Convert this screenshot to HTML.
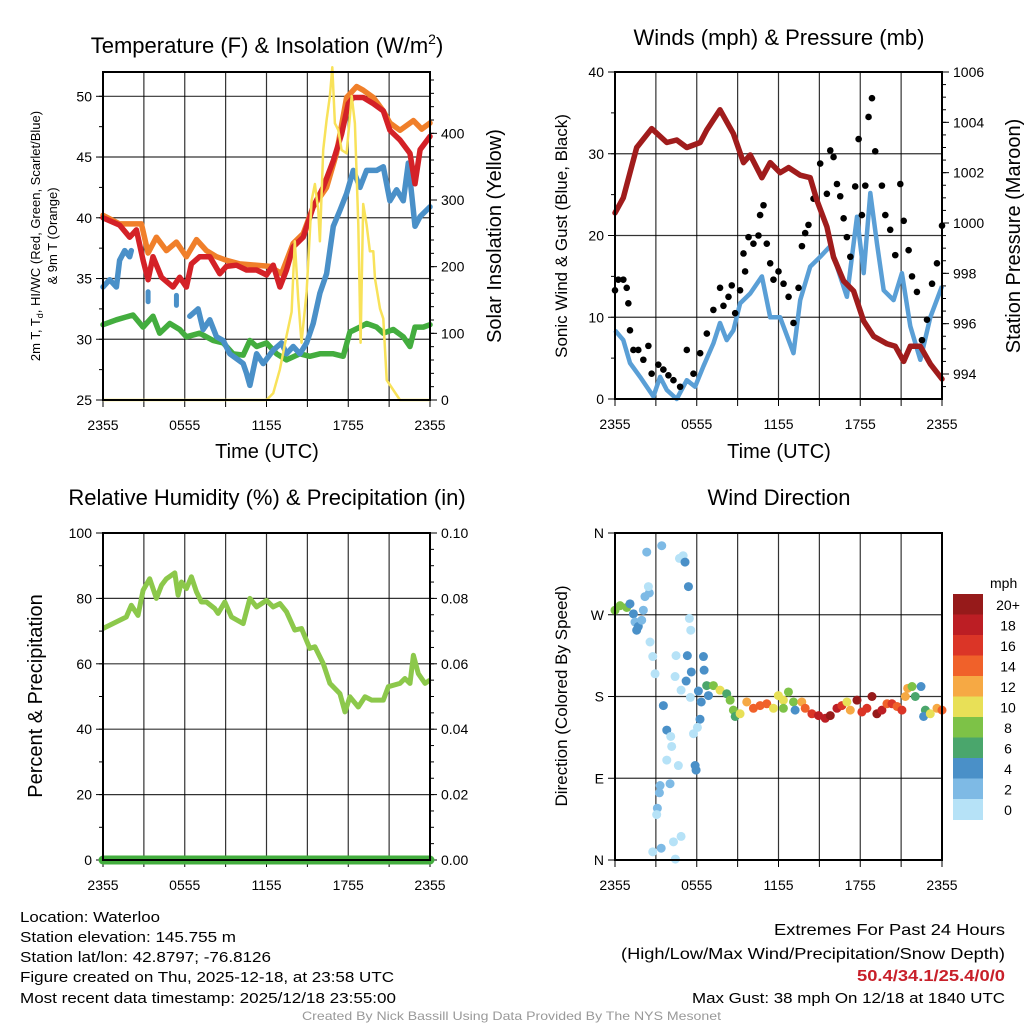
<!DOCTYPE html>
<html><head><meta charset="utf-8">
<style>
html,body{margin:0;padding:0;background:#fff;}
svg{display:block;font-family:"Liberation Sans",Arial,sans-serif;}
</style></head>
<body>
<svg id="chart" width="1024" height="1024" viewBox="0 0 1024 1024" xmlns="http://www.w3.org/2000/svg">
<rect x="0" y="0" width="1024" height="1024" fill="#fff"/>
<text x="267" y="53" font-size="22" text-anchor="middle">Temperature (F) &amp; Insolation (W/m<tspan font-size="14" dy="-9">2</tspan><tspan dy="9">)</tspan></text>
<text x="779" y="45" font-size="22" text-anchor="middle">Winds (mph) &amp; Pressure (mb)</text>
<text x="267" y="505" font-size="22" text-anchor="middle">Relative Humidity (%) &amp; Precipitation (in)</text>
<text x="779" y="505" font-size="22" text-anchor="middle">Wind Direction</text>
<text transform="translate(40,236) rotate(-90)" font-size="13" text-anchor="middle">2m T, T<tspan font-size="9" dy="3">d</tspan><tspan dy="-3">, HI/WC (Red, Green, Scarlet/Blue)</tspan></text>
<text transform="translate(57,236) rotate(-90)" font-size="13" text-anchor="middle">&amp; 9m T (Orange)</text>
<text transform="translate(501,236) rotate(-90)" font-size="20" text-anchor="middle">Solar Insolation (Yellow)</text>
<text x="267" y="458" font-size="20" text-anchor="middle">Time (UTC)</text>
<text transform="translate(567,236) rotate(-90)" font-size="17" text-anchor="middle">Sonic Wind &amp; Gust (Blue, Black)</text>
<text transform="translate(1020,236) rotate(-90)" font-size="20" text-anchor="middle">Station Pressure (Maroon)</text>
<text x="779" y="458" font-size="20" text-anchor="middle">Time (UTC)</text>
<text transform="translate(42,696) rotate(-90)" font-size="20" text-anchor="middle">Percent &amp; Precipitation</text>
<text transform="translate(567,696) rotate(-90)" font-size="17" text-anchor="middle">Direction (Colored By Speed)</text>
<g id="layer"></g>
<g font-size="15">
<text x="20" y="922" textLength="140" lengthAdjust="spacingAndGlyphs">Location: Waterloo</text>
<text x="20" y="942" textLength="216" lengthAdjust="spacingAndGlyphs">Station elevation: 145.755 m</text>
<text x="20" y="962" textLength="251" lengthAdjust="spacingAndGlyphs">Station lat/lon: 42.8797; -76.8126</text>
<text x="20" y="982" textLength="374" lengthAdjust="spacingAndGlyphs">Figure created on Thu, 2025-12-18, at 23:58 UTC</text>
<text x="20" y="1003" textLength="376" lengthAdjust="spacingAndGlyphs">Most recent data timestamp: 2025/12/18 23:55:00</text>
</g>
<g font-size="16">
<text x="774" y="935" textLength="231" lengthAdjust="spacingAndGlyphs">Extremes For Past 24 Hours</text>
<text x="621" y="959" textLength="384" lengthAdjust="spacingAndGlyphs">(High/Low/Max Wind/Precipitation/Snow Depth)</text>
<text x="857" y="981" font-weight="bold" fill="#c8202a" textLength="148" lengthAdjust="spacingAndGlyphs">50.4/34.1/25.4/0/0</text>
<text x="692" y="1003" font-size="15" textLength="313" lengthAdjust="spacingAndGlyphs">Max Gust: 38 mph On 12/18 at 1840 UTC</text>
</g>
<text x="302" y="1020" font-size="12" fill="#999" textLength="419" lengthAdjust="spacingAndGlyphs">Created By Nick Bassill Using Data Provided By The NYS Mesonet</text>
</svg>
<script>
const timeTicks = [0, 6, 12, 18, 24];
const timeTickLabels = ["2355", "0555", "1155", "1755", "2355"];

const redHours = [0,1.22,1.96,2.45,2.94,3.31,3.67,4.29,5.14,5.63,6.12,6.49,7.1,7.84,8.57,9.06,9.8,10.53,11.27,12,12.49,12.98,13.47,13.96,14.69,15.43,16.16,16.9,17.51,18,18.37,19.1,19.84,20.57,21.06,21.8,22.53,22.9,23.27,24];
const redTemp = [40,39.4,38.4,39,36.5,34.9,36.8,35.1,34.3,35.1,34.3,36.2,36.8,36.8,35.4,36,36.1,35.7,35.7,35.3,36.1,34.3,35.7,37.6,38.4,40.9,42.5,44.7,46.9,49.4,49.9,49.9,49.4,48.8,47.2,46.4,45.3,42.8,45.6,46.7];
const orangeHours = [0,1.22,2.2,2.82,3.31,3.92,4.65,5.39,6.12,6.86,7.59,8.33,9.06,10.04,11.27,12.25,13.1,13.96,14.69,15.43,16.41,17.14,17.88,18.61,19.1,19.84,20.57,21.06,21.8,22.78,23.39,24];
const orangeTemp = [40.2,39.5,39.5,39.5,37.1,38.4,37.3,38,36.8,38.2,37.3,36.8,36.5,36.2,36.1,36,35.4,37.9,38.7,40.9,42.5,45.3,49.9,50.8,50.5,49.9,48.8,47.8,47.2,48,47.3,47.8];
const blueHours1 = [0,0.49,0.98,1.22,1.59,1.96,2.08];
const blueTemp1 = [34.3,34.9,34.3,36.5,37.3,36.8,37.3];
const blueDotHours = [3.31,5.39];
const blueDotTemp = [33.5,33.2];
const blueHours2 = [6.37,6.98,7.35,7.84,8.33,8.82,9.31,9.92,10.29,10.53,10.78,11.27,11.76,12.49,13.1,13.47,13.96,14.45,14.94,15.43,15.92,16.41,16.9,17.39,17.88,18.37,18.86,19.35,20.08,20.57,21.06,21.55,22.04,22.41,22.65,22.9,23.27,24];
const blueTemp2 = [31.9,32.5,30.8,31.6,30.2,29.9,28.8,28.3,28,27.2,26.2,28.8,28,29.1,29.7,28.8,29.4,28.8,29.7,31.3,33.8,35.4,39.3,40.6,42,43.9,42.5,43.9,43.9,44.2,41.4,42.3,41.4,44.5,42,39.3,40.1,40.9];
const greenHours = [0,0.98,2.2,2.94,3.67,4.16,4.9,5.63,6.12,7.1,8.08,8.82,9.55,10.29,10.78,11.27,12,12.74,13.47,14.45,15.18,15.92,16.9,17.63,18.12,18.86,19.35,20.08,20.57,21.31,22.04,22.53,22.9,23.51,24];
const greenTemp = [31.2,31.6,32,31,31.9,30.5,31.3,30.8,30.2,30.5,29.9,29.7,28.8,28.7,29.9,29.4,29.7,28.8,28.3,28.8,28.6,28.8,28.8,28.6,30.6,31,31.3,31,30.5,30.8,30.2,29.4,31,31,31.2];
const solarHours = [0,12,12.49,12.98,13.47,13.84,14.08,14.33,14.57,14.94,15.31,15.55,15.8,15.92,16.16,16.41,16.65,16.83,17.02,17.27,17.51,17.88,18.25,18.49,18.74,18.91,19.1,19.35,19.59,19.84,19.96,20.33,20.57,20.82,21.31,21.8,24];
const solarValues = [0,0,10,46,96,132,238,152,86,162,299,324,284,238,375,420,456,499,415,405,375,370,456,415,263,86,294,263,223,223,182,137,122,30,15,0,0];

const windHours = [0,0.61,1.1,1.84,2.82,3.31,3.8,4.53,5.27,5.88,6.49,7.22,7.71,8.2,8.69,9.18,9.92,10.78,11.39,12.12,13.1,13.59,14.33,15.06,15.8,16.53,17.02,17.76,18.25,18.74,19.23,19.72,20.45,21.06,21.67,22.41,23.14,24];
const windSpeed = [8.4,7.2,4.4,2.7,0.3,2.7,1.1,0,2.3,1.5,4,6.8,9.3,7.2,8.4,11.7,12.9,15,10,10,5.6,12.1,16.2,17.4,18.7,15,12.5,22.3,15.4,25.2,19,13.3,12.1,15.4,8.9,4.8,10,13.8];
const gustHours = [0,0.24,0.61,0.86,0.98,1.1,1.35,1.71,2.08,2.45,2.69,3.18,3.55,3.92,4.29,4.78,5.27,5.76,6.25,6.74,7.22,7.71,7.96,8.33,8.57,8.82,9.18,9.43,9.55,9.8,10.16,10.53,10.65,10.9,11.14,11.39,11.63,12,12.37,12.74,13.1,13.47,13.72,13.96,14.2,14.57,15.06,15.55,15.8,16.04,16.29,16.53,16.78,17.02,17.27,17.63,17.88,18.12,18.37,18.61,18.86,19.1,19.59,19.84,20.2,20.57,20.94,21.19,21.55,21.8,22.16,22.53,22.9,23.27,23.63,24];
const gustSpeed = [13.3,14.6,14.6,13.6,11.7,8.4,6,6,4.8,6.5,3.1,4.2,3.6,2.9,2.3,1.5,6,3.1,5.6,8,10.9,13.6,11.4,12.5,13.9,10.5,13.3,17.8,15.6,19.8,19,20,22.5,23.7,19,16.6,14.6,15.6,14.1,12.5,9.3,13.6,18.7,20.3,21.3,24.5,28.8,25.1,30.4,29.6,26.3,24.8,22.1,19.8,17.4,26,31.8,22.5,26.1,34.5,36.8,30.3,26.1,22.5,20.7,17.6,26.3,21.8,18.2,15,13.1,7.2,9.7,14.1,16.6,21.2];
const pressHours = [0,0.61,1.59,2.69,3.8,4.53,5.27,6.25,6.74,7.71,8.69,9.43,9.92,10.78,11.39,12.12,12.74,13.59,14.33,14.82,15.55,16.04,16.78,17.51,18.25,18.98,19.96,20.57,21.19,21.67,22.41,23.14,24];
const pressValues = [1000.4,1001,1003,1003.75,1003.2,1003.3,1003,1003.2,1003.7,1004.5,1003.55,1002.4,1002.7,1001.8,1002.4,1002,1002.2,1001.9,1001.8,1000.9,999.85,998.65,997.7,997.3,996.1,995.5,995.2,995.1,994.5,995.1,995.1,994.4,993.8];

const rhHours = [0,0.98,1.71,2.08,2.57,2.94,3.43,3.92,4.29,4.65,5.27,5.51,5.76,6.12,6.49,6.86,7.22,7.59,8.2,8.45,8.94,9.43,10.29,10.78,11.27,12,12.49,12.98,13.47,14.08,14.57,15.18,15.55,16.16,16.65,17.39,17.76,18.12,18.74,19.23,19.72,20.57,20.94,21.8,22.16,22.53,22.78,23.14,23.63,24];
const rhValues = [70.8,72.8,74.3,77.9,74.8,82.5,86,80,84,86,87.8,81,85,83,86.6,82,78.9,78.9,76.9,75.4,78.9,74.3,72.3,80,77.4,79.4,77.4,78.4,75.9,70.3,70.8,64.7,65.2,60.1,54,50.9,45.3,49.9,46.8,49.9,48.9,48.9,53,54,55.5,54,62.6,57,54,55];
const precipHours = [0,24];
const precipValues = [0,0];

const dirHours = [0,0.37,0.86,1.1,1.35,1.47,1.59,1.71,1.96,2.08,2.2,2.52,2.45,2.33,2.57,2.77,2.94,3.43,3.55,3.8,4.09,4.16,3.8,4.65,3.31,3.26,3.11,3.06,3.39,2.77,4.04,4.29,4.85,4.43,4.73,5.0,5.14,5.39,5.46,5.56,4.48,5.31,4.41,5.22,4.85,5.53,5.6,6.49,6.54,6.12,6.33,6.24,6.05,5.76,5.88,5.95,6.73,6.86,7.22,7.71,8.2,8.45,8.69,8.82,9.18,9.67,10.16,10.65,11.14,11.63,11.99,12.36,12.36,12.73,13.1,13.22,13.71,13.96,14.45,14.94,15.43,15.8,16.29,16.65,17.02,17.27,17.76,18.12,18.49,18.86,19.22,19.59,19.96,20.33,20.7,21.06,21.31,21.48,21.8,22.04,22.46,22.78,22.65,23.14,23.63,24];
const dirDegrees = [275,280,278,282,271,262,253,257,264,275,290,294,301,339,240,224,205,346,170,143,136,125,110,104,82,74,57,50,13,9,84,20,26,1,332,335,328,301,266,253,225,225,202,197,187,179,207,224,209,186,174,155,146,139,104,99,192,181,192,187,183,176,165,158,161,174,167,170,172,167,181,176,167,185,174,165,174,167,161,159,156,159,167,170,174,165,176,163,167,180,161,165,172,172,169,165,180,189,191,180,191,165,158,161,167,165];
const dirSpeeds = [8,8,8,4,4,2,4,4,2,2,2,2,0,2,0,0,0,2,4,4,0,0,0,0,2,2,2,0,2,0,2,0,0,0,0,0,4,4,0,0,0,4,0,4,0,0,4,4,4,4,4,4,0,0,4,4,6,4,8,10,6,8,8,6,10,12,14,14,14,10,10,10,8,8,8,4,12,14,16,18,18,20,18,16,10,12,20,16,16,20,20,18,14,16,14,16,12,12,8,6,4,6,4,10,12,14];
const speedBinLabels = ["0","2","4","6","8","10","12","14","16","18","20+"];
const speedColors = ["#b6e2f7","#7ebae5","#4a90c8","#4aa66c","#7dc247","#e8e057","#f6a944","#f0612a","#db3527","#bc1e24","#961a1a"];

const NS = "http://www.w3.org/2000/svg";
const layer = document.getElementById("layer");
function mk(tag, attrs, parent) {
  const e = document.createElementNS(NS, tag);
  for (const k in attrs) e.setAttribute(k, attrs[k]);
  (parent || layer).appendChild(e);
  return e;
}
function lin(d0, d1, r0, r1) { return v => r0 + (v - d0) / (d1 - d0) * (r1 - r0); }
function pathD(xs, ys, fx, fy) {
  return xs.map((h, i) => (i ? "L" : "M") + fx(h).toFixed(1) + "," + fy(ys[i]).toFixed(1)).join("");
}

function panelFrame(L, T, R, B, name, xScale, leftTicks, leftLabels, leftScale, leftMinor, gridVals, labelOff) {
  const g = mk("g", {});
  
  
  for (let h = 3; h < 24; h += 3) {
    const ln = mk("line", {x1: xScale(h), x2: xScale(h), y1: T, y2: B, stroke: "#000", "stroke-width": 1.2, "stroke-opacity": 0.8}, g);
    
    
  }
  gridVals.forEach(v => {
    const ln = mk("line", {x1: L, x2: R, y1: leftScale(v), y2: leftScale(v), stroke: "#000", "stroke-width": 1.2, "stroke-opacity": 0.8}, g);
    
    
  });
  for (let h = 0; h <= 24; h += 3) {
    mk("line", {x1: xScale(h), x2: xScale(h), y1: B, y2: B + 7, stroke: "#000", "stroke-width": 1}, g);
  }
  timeTicks.forEach((h, i) => {
    const t = mk("text", {x: xScale(h), y: B + labelOff, "font-size": 14, "text-anchor": "middle"}, g);
    
    
    t.textContent = timeTickLabels[i];
  });
  leftMinor.forEach(v => mk("line", {x1: L - 4, x2: L, y1: leftScale(v), y2: leftScale(v), stroke: "#000", "stroke-width": 1}, g));
  leftTicks.forEach((v, i) => {
    mk("line", {x1: L - 7, x2: L, y1: leftScale(v), y2: leftScale(v), stroke: "#000", "stroke-width": 1}, g);
    const t = mk("text", {x: L - 11, y: leftScale(v) + 5, "font-size": 14, "text-anchor": "end"}, g);
    
    
    t.textContent = leftLabels[i];
  });
  return g;
}
function rightAxis(R, scale, ticks, labels, minor) {
  minor.forEach(v => mk("line", {x1: R, x2: R + 4, y1: scale(v), y2: scale(v), stroke: "#000", "stroke-width": 1}));
  ticks.forEach((v, i) => {
    mk("line", {x1: R, x2: R + 7, y1: scale(v), y2: scale(v), stroke: "#000", "stroke-width": 1});
    const t = mk("text", {x: R + 11, y: scale(v) + 5, "font-size": 14});
    
    
    t.textContent = labels[i];
  });
}
function border(L, T, R, B, name) {
  const r = mk("rect", {x: L, y: T, width: R - L, height: B - T, fill: "none", stroke: "#000", "stroke-width": 2});
  
  
}
function range(a, b, s) { const o = []; for (let v = a; v <= b + 1e-9; v += s) o.push(+v.toFixed(4)); return o; }

{
  const L = 103, T = 72, R = 430, B = 400;
  const x = lin(0, 24, L, R), y = lin(25, 52, B, T), ys = lin(0, 492, B, T);
  panelFrame(L, T, R, B, "temperature-panel", x, [25,30,35,40,45,50], ["25","30","35","40","45","50"], y, range(25, 52, 2.5), [30,35,40,45,50], 30);
  rightAxis(R, ys, [0,100,200,300,400], ["0","100","200","300","400"], range(0, 480, 20));
  const series = [
    ["green-td-line", greenHours, greenTemp, "#43ad3e", y],
    ["blue-line-a", blueHours1, blueTemp1, "#4a90c8", y],
    ["blue-line-b", blueHours2, blueTemp2, "#4a90c8", y],
    ["orange-9m-temp-line", orangeHours, orangeTemp, "#f07f2a", y],
    ["red-2m-temp-line", redHours, redTemp, "#d42127", y]
  ];
  series.forEach(s => {
    const p = mk("path", {d: pathD(s[1], s[2], x, s[4]), fill: "none", stroke: s[3], "stroke-width": 5.5, "stroke-linejoin": "round", "stroke-linecap": "round"});
    
    
  });
  blueDotHours.forEach((h, i) => {
    const c = mk("path", {d: "M" + x(h) + "," + (y(blueDotTemp[i]) - 5) + "l0,10", stroke: "#4a90c8", "stroke-width": 5, "stroke-linecap": "round"});
    
    
  });
  const sp = mk("path", {d: pathD(solarHours, solarValues, x, ys), fill: "none", stroke: "#f8e25a", "stroke-width": 2.5, "stroke-linejoin": "round"});
  
  
  border(L, T, R, B, "temperature-panel");
}

{
  const L = 615, T = 72, R = 942, B = 399;
  const x = lin(0, 24, L, R), y = lin(0, 40, B, T), yp = lin(994, 1006, 374, 72);
  panelFrame(L, T, R, B, "winds-panel", x, [0,10,20,30,40], ["0","10","20","30","40"], y, range(0, 40, 5), [10,20,30], 30);
  rightAxis(R, yp, [994,996,998,1000,1002,1004,1006], ["994","996","998","1000","1002","1004","1006"], range(993.5, 1006, 0.5));
  const wp = mk("path", {d: pathD(windHours, windSpeed, x, y), fill: "none", stroke: "#5a9fd6", "stroke-width": 4.5, "stroke-linejoin": "round"});
  
  
  gustHours.forEach((h, i) => {
    const c = mk("circle", {cx: x(h), cy: y(gustSpeed[i]), r: 3.3, fill: "#000"});
    
    
  });
  const pp = mk("path", {d: pathD(pressHours, pressValues, x, yp), fill: "none", stroke: "#a01c1c", "stroke-width": 5.5, "stroke-linejoin": "round", "stroke-linecap": "round"});
  
  
  border(L, T, R, B, "winds-panel");
}

{
  const L = 103, T = 533, R = 430, B = 860;
  const x = lin(0, 24, L, R), y = lin(0, 100, B, T), yr = lin(0, 0.1, B, T);
  panelFrame(L, T, R, B, "humidity-panel", x, [0,20,40,60,80,100], ["0","20","40","60","80","100"], y, range(0, 100, 10), [20,40,60,80], 30);
  rightAxis(R, yr, [0,0.02,0.04,0.06,0.08,0.1], ["0.00","0.02","0.04","0.06","0.08","0.10"], range(0, 0.1, 0.005));
  const rp = mk("path", {d: pathD(rhHours, rhValues, x, y), fill: "none", stroke: "#8cc84b", "stroke-width": 5, "stroke-linejoin": "round"});
  
  
  const pr = mk("path", {d: pathD(precipHours, precipValues, x, yr), fill: "none", stroke: "#43ad3e", "stroke-width": 9, "stroke-linecap": "round"});
  
  
  border(L, T, R, B, "humidity-panel");
}

{
  const L = 615, T = 533, R = 942, B = 860;
  const x = lin(0, 24, L, R), y = lin(0, 360, B, T);
  panelFrame(L, T, R, B, "direction-panel", x, [0,90,180,270,360], ["N","E","S","W","N"], y, [], [90,180,270], 30);
  dirHours.forEach((h, i) => {
    const bin = Math.min(10, Math.floor(dirSpeeds[i] / 2));
    const c = mk("circle", {cx: x(h), cy: y(dirDegrees[i]), r: 4.5, fill: speedColors[bin]});
    
    
  });
  border(L, T, R, B, "direction-panel");
  const cbTop = 594, cbH = 20.5;
  const mph = mk("text", {x: 990, y: 588, "font-size": 14});
  
  
  mph.textContent = "mph";
  for (let k = 10; k >= 0; k--) {
    const row = 10 - k;
    const r = mk("rect", {x: 953, y: cbTop + row * cbH, width: 30, height: cbH + 0.5, fill: speedColors[k]});
    
    
    const t = mk("text", {x: 1008, y: cbTop + row * cbH + 16, "font-size": 14, "text-anchor": "middle"});
    
    
    t.textContent = speedBinLabels[k];
  }
}
</script>
</body></html>
